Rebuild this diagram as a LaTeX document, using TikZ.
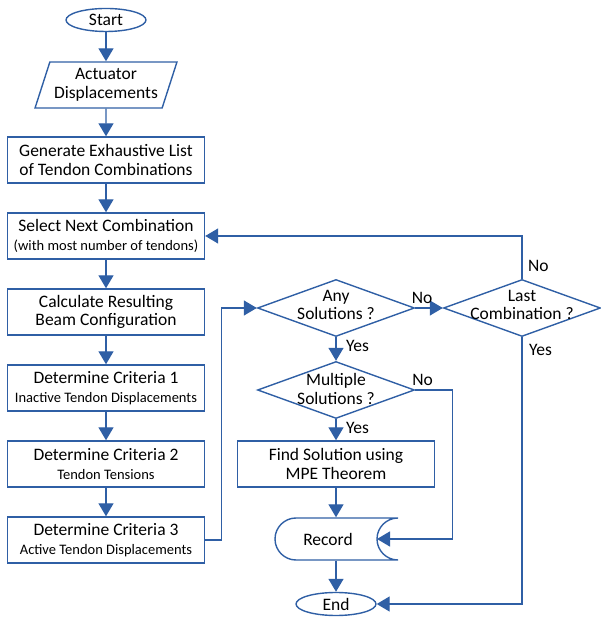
\documentclass[tikz,border=0pt]{standalone}
\usepackage{fontspec}
\setmainfont{Carlito}
\usetikzlibrary{arrows.meta,shapes.geometric,calc}
\definecolor{flowblue}{RGB}{47,95,165}
\newcommand{\subtxt}{\fontsize{14.5}{15}\selectfont}

\begin{document}
\begin{tikzpicture}[->,>={Triangle[width=15pt,length=13pt]},x=1pt,y=1pt,
                    node distance=76pt,line width=1.4pt,draw=flowblue,
                    font=\fontsize{17.5}{18.5}\selectfont]
  \tikzstyle{term}=[ellipse,draw,minimum width=80pt,minimum height=23pt,inner sep=0pt]
  \tikzstyle{io}=[trapezium,trapezium left angle=68,trapezium right angle=112,
                  trapezium stretches=true,draw,minimum width=142pt,minimum height=46pt,
                  align=center,inner sep=1pt]
  \tikzstyle{proc}=[rectangle,draw,minimum width=197pt,minimum height=46pt,align=center,inner sep=1pt]
  \tikzstyle{dec}=[diamond,draw,aspect=2.75,minimum width=157pt,minimum height=57pt,inner sep=0pt]
  \tikzstyle{store}=[minimum width=123pt,minimum height=42pt]
  \tikzstyle{inside}=[align=center,yshift=3pt]

  \useasboundingbox (0,0) rectangle (601,620);

  \node[term] (start)   at (106,600)               {Start};
  \node[io]   (act)     [below of=start,node distance=65pt] {Actuator\\Displacements};
  \node[proc] (gen)     [below of=act,node distance=75pt]   {Generate Exhaustive List\\of Tendon Combinations};
  \node[proc] (sel)     [below of=gen]             {Select Next Combination\\{\subtxt (with most number of tendons)}};
  \node[proc] (beam)    [below of=sel]             {Calculate Resulting\\Beam Configuration};
  \node[proc] (crit1)   [below of=beam]            {Determine Criteria 1\\{\subtxt Inactive Tendon Displacements}};
  \node[proc] (crit2)   [below of=crit1]           {Determine Criteria 2\\{\subtxt Tendon Tensions}};
  \node[proc] (crit3)   [below of=crit2]           {Determine Criteria 3\\{\subtxt Active Tendon Displacements}};

  \node[dec,label={[inside]center:{Any\\Solutions ?}}]       (any)   at (336,312) {};
  \node[dec,label={[inside]center:{Last\\Combination ?}}]    (last)  [right of=any,node distance=186pt] {};
  \node[dec,label={[inside,yshift=-2pt]center:{Multiple\\Solutions ?}}]  (multi) [below of=any,node distance=82pt] {};
  \node[proc] (find)    [below of=multi,node distance=74pt] {Find Solution using\\MPE Theorem};
  \node[store,label={[xshift=-8pt]center:Record}] (rec) [below of=find,node distance=75pt] {};
  \node[term] (end)     [below of=rec,node distance=65pt]   {End};

  % stored data outline
  \draw[-] ($(rec.center)+(-40,21)$) -- ($(rec.center)+(62,21)$)
     arc[start angle=90,end angle=270,radius=21] -- ($(rec.center)+(-40,-21)$)
     arc[start angle=270,end angle=90,radius=21] -- cycle;
  \coordinate (recin) at ($(rec.center)+(41,0)$);

  \path (start) edge (act)
        (act)   edge (gen)
        (gen)   edge (sel)
        (sel)   edge (beam)
        (beam)  edge (crit1)
        (crit1) edge (crit2)
        (crit2) edge (crit3)
        (any)   edge node[pos=0.25,above] {No} (last)
        (any)   edge node[pos=0.38,right,xshift=6pt] {Yes} (multi)
        (multi) edge node[pos=0.42,right,xshift=6pt] {Yes} (find)
        (find)  edge (rec)
        (rec)   edge (end);

  \draw (crit3.east) -- ++(16,0) |- (any.west);
  \draw (last.north) |- node[pos=0.15,right,xshift=2pt] {No} (sel.east);
  \draw (last.south) |- node[pos=0.024,right,xshift=3pt] {Yes} (end.east);
  \draw (multi.east) -- node[pos=0.2,above] {No} ++(37,0) |- (recin);

\end{tikzpicture}
\end{document}
